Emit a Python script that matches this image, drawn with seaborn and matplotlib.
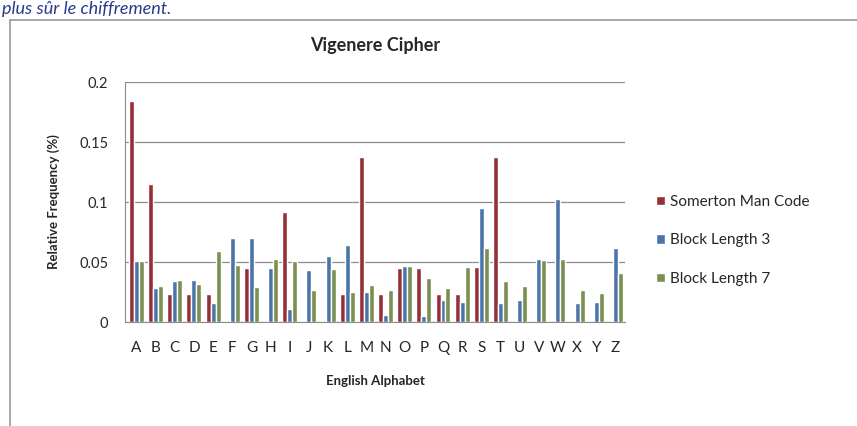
import matplotlib
matplotlib.use("Agg")
import matplotlib.pyplot as plt
import seaborn as sns
import pandas as pd
from matplotlib.patches import Rectangle

letters = list("ABCDEFGHIJKLMNOPQRSTUVWXYZ")
somerton = [0.184, 0.115, 0.023, 0.023, 0.023, 0.0, 0.045, 0.0, 0.0915, 0.0,
            0.0, 0.023, 0.1376, 0.023, 0.045, 0.045, 0.023, 0.023, 0.0456, 0.1376,
            0.0, 0.0, 0.0, 0.0, 0.0, 0.0]
block3 = [0.051, 0.028, 0.034, 0.035, 0.0155, 0.070, 0.070, 0.045, 0.011, 0.043,
          0.055, 0.064, 0.025, 0.006, 0.047, 0.005, 0.018, 0.017, 0.095, 0.0155,
          0.018, 0.0526, 0.1027, 0.0155, 0.017, 0.0616]
block7 = [0.051, 0.030, 0.035, 0.032, 0.059, 0.0475, 0.029, 0.0526, 0.051, 0.0266,
          0.044, 0.025, 0.031, 0.0266, 0.047, 0.037, 0.028, 0.046, 0.0616, 0.0344,
          0.030, 0.052, 0.0527, 0.0266, 0.0238, 0.041]
series = ["Somerton Man Code", "Block Length 3", "Block Length 7"]
colors = ["#a3202a", "#3b72b9", "#7d9a46"]

df = pd.DataFrame({
    "letter": letters * 3,
    "freq": somerton + block3 + block7,
    "series": [s for s in series for _ in letters],
})

sns.set_style("white")
plt.rcParams["font.family"] = ["Lato", "DejaVu Sans"]

fig = plt.figure(figsize=(8.57, 4.26), dpi=100)
ax = fig.add_axes([125 / 857, 1 - 322 / 426, 500 / 857, 240 / 426])

sns.barplot(data=df, x="letter", y="freq", hue="series", palette=colors,
            width=0.78, gap=0, ax=ax, legend=True)

ax.set_ylim(0, 0.2)
ax.set_xlim(-0.6, 25.5)
ax.set_yticks([0, 0.05, 0.1, 0.15, 0.2])
ax.set_yticklabels(["0", "0.05", "0.1", "0.15", "0.2"], fontsize=10.5)
ax.tick_params(axis="x", labelsize=11, pad=14, length=0)
ax.tick_params(axis="y", pad=12, length=0)
ax.yaxis.grid(True, color="#8c8c8c", linewidth=0.9)
ax.set_axisbelow(True)
for side in ["top", "right"]:
    ax.spines[side].set_visible(False)
ax.spines["left"].set_color("#8c8c8c")
ax.spines["bottom"].set_color("#8c8c8c")

ax.set_xlabel("English Alphabet", fontsize=9.5, fontweight="bold", labelpad=14)
ax.set_ylabel("Relative Frequency (%)", fontsize=9.5, fontweight="bold", labelpad=14)
ax.set_title("Vigenere Cipher", fontsize=13, fontweight="bold", pad=22)

handles, labels = ax.get_legend_handles_labels()
ax.legend(handles, labels, loc="center left", bbox_to_anchor=(1.035, 0.34),
          frameon=False, fontsize=11, handlelength=0.6, handleheight=0.6,
          handletextpad=0.3, labelspacing=1.6)

# outer chart frame, cut at the image edges
fig.patches.append(Rectangle((10 / 857, -0.05), 1.0, 1 - 20 / 426 + 0.05,
                             transform=fig.transFigure, fill=False,
                             edgecolor="#9a9a9a", linewidth=1.2))
# caption line above the chart (clipped in the source screenshot)
fig.text(2 / 857, 1 - 1 / 426, "plus sûr le chiffrement.", fontsize=13,
         style="italic", color="#2a3a8c", va="top", ha="left")

fig.savefig("out.png", dpi=100)
